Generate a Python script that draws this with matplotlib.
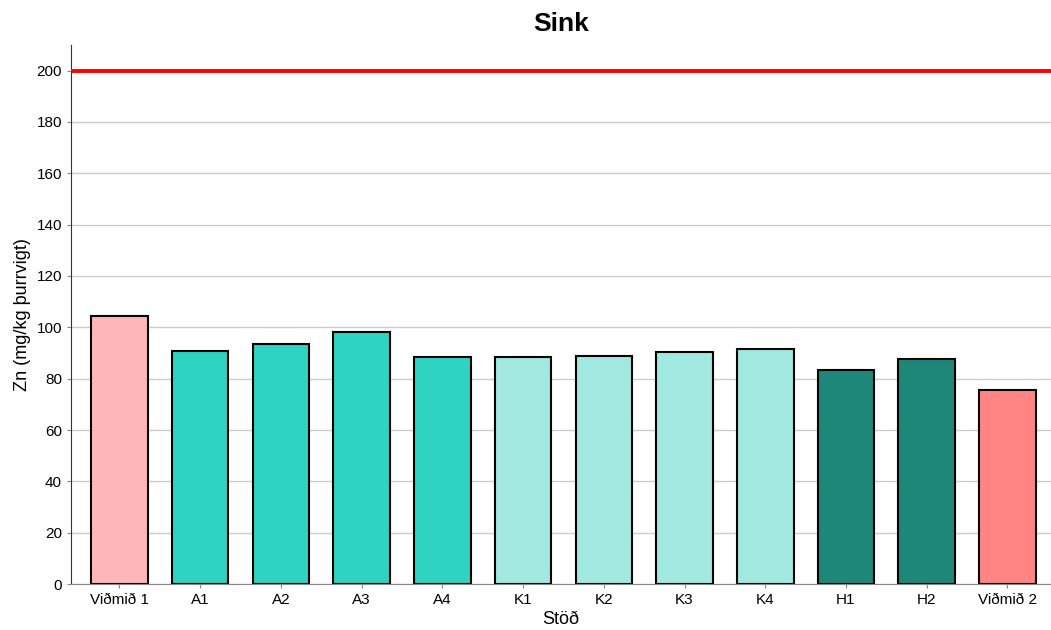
import matplotlib
matplotlib.use('Agg')
import matplotlib.pyplot as plt

stations = ['Viðmið 1', 'A1', 'A2', 'A3', 'A4', 'K1', 'K2', 'K3', 'K4', 'H1', 'H2', 'Viðmið 2']
zn_values = [104.5, 90.8, 93.4, 98.1, 88.6, 88.6, 89.0, 90.3, 91.6, 83.3, 87.6, 75.6]
bar_colors = ['#FFB6B9', '#2ED3C2', '#2ED3C2', '#2ED3C2', '#2ED3C2',
              '#A0E8E0', '#A0E8E0', '#A0E8E0', '#A0E8E0',
              '#1E8779', '#1E8779', '#FF8585']
limit_value = 200

plt.rcParams['font.family'] = ['Liberation Sans', 'DejaVu Sans']

fig = plt.figure(figsize=(10.51, 6.3), dpi=100)
ax = fig.add_axes([0.0676, 0.073, 0.9324, 0.8556])

x = range(len(stations))
ax.bar(x, zn_values, width=0.7, color=bar_colors, edgecolor='black', linewidth=1.5, zorder=3)
ax.axhline(limit_value, color='#FF0000', linewidth=2.8, zorder=4)

ax.set_xlim(-0.6, len(stations) - 0.46)
ax.set_ylim(0, 210)
ax.set_yticks(range(0, 201, 20))
ax.set_xticks(list(x))
ax.set_xticklabels(stations)
ax.grid(axis='y', color='#CCCCCC', linewidth=1, zorder=0)
ax.set_axisbelow(True)

for side in ['top', 'right']:
    ax.spines[side].set_visible(False)
ax.spines['left'].set_color('#333333')
ax.spines['bottom'].set_color('#888888')
ax.tick_params(axis='both', labelsize=11, colors='#888888', labelcolor='black', length=3)

ax.set_xlabel('Stöð', fontsize=13, labelpad=3)
ax.set_ylabel('Zn (mg/kg þurrvigt)', fontsize=13, labelpad=4)
ax.set_title('Sink', fontsize=19, fontweight='bold', pad=10)

fig.savefig('out.png', dpi=100)
